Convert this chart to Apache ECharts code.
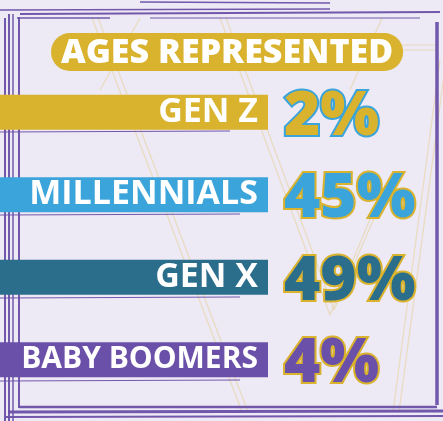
<!DOCTYPE html>
<html><head><meta charset="utf-8">
<script src="https://cdn.jsdelivr.net/npm/echarts@6/dist/echarts.min.js"></script>
<style>html,body{margin:0;padding:0;background:#EDE9F5;}#c{width:443px;height:421px;}</style>
</head><body><div id="c"></div>
<script>
const categories = ['GEN Z', 'MILLENNIALS', 'GEN X', 'BABY BOOMERS'];
const shares = [2, 45, 49, 4];
const bannerLength = [1, 1, 1, 1];
const titleText = 'AGES REPRESENTED';

const fills = ['#D9B22E', '#3BA4DA', '#2A6E8C', '#6A50A8'];
const outlines = ['#3BA4DA', '#D9B22E', '#D9B22E', '#D9B22E'];
const nameSizes = [34, 34, 34, 30];
const gold = '#D9B22E', purple = '#6A50A8';

const chart = echarts.init(document.getElementById('c'), null, {renderer: 'canvas'});

function line(x1, y1, x2, y2, color, w, op) {
  return {type: 'line', silent: true, z: -1, shape: {x1, y1, x2, y2},
    style: {stroke: color, lineWidth: w, opacity: op == null ? 1 : op}};
}
const deco = [];
const faint = '#E6D29A';
[[92,18,242,412],[98,18,248,412],[220,18,330,315],[226,18,334,310],[330,315,378,200],[334,310,382,200],
 [440,60,393,412],[446,60,399,412],[140,18,100,90],[382,18,350,90],[395,45,436,45],[395,50,436,50]].forEach(p => deco.push(line(p[0],p[1],p[2],p[3],faint,1.2,0.6)));
// frame
[[5,18,5,421,2],[9,14,9,421,2],[13,14,13,421,1.5],[19,17,19,408,2],
 [0,10,330,9,1.5],[20,14,440,12,2],[17,18,110,18,1.5],[150,18,420,18,1.2],
 [140,2,330,3,1.5],
 [437,22,437,405,3.5],[19,407,437,407,2.5],[8,412,443,411,3],[6,417,443,416,2],
 [0,132,230,131,1],[0,215,240,214,1],[0,298,240,297,1],[0,381,240,380,1]
].forEach(p => deco.push(line(p[0],p[1],p[2],p[3],purple,p[4],0.95)));

chart.setOption({
  backgroundColor: '#EDE9F5',
  animation: false,
  title: {
    text: titleText, left: 52, top: 33,
    backgroundColor: gold, borderRadius: 19, padding: [2, 9, 0, 9],
    textStyle: {color: '#fff', fontSize: 34, fontWeight: 800, fontFamily: 'Open Sans',
      textBorderColor: gold, textBorderWidth: 2, lineHeight: 36}
  },
  graphic: deco,
  grid: {left: 0, right: 175, top: 71, bottom: 20, containLabel: false},
  xAxis: {type: 'value', min: 0, max: 1, show: false},
  yAxis: {type: 'category', data: categories, inverse: true, show: false},
  series: [
    {
      type: 'bar', barWidth: 35, z: 2,
      data: bannerLength.map((v, i) => ({value: v, itemStyle: {color: fills[i]},
        label: {fontSize: nameSizes[i]}})),
      label: {show: true, position: 'insideRight', distance: 10, formatter: p => p.name,
        color: '#fff', fontWeight: 700, fontFamily: 'Open Sans'}
    },
    {
      type: 'bar', barWidth: 35, barGap: '-100%', z: 3,
      data: bannerLength.map((v, i) => ({value: v, itemStyle: {color: 'transparent'},
        label: {color: fills[i], textBorderColor: outlines[i]}})),
      label: {show: true, position: 'right', distance: 16, offset: [0, 5],
        formatter: p => shares[p.dataIndex] + '%',
        fontSize: 62, fontWeight: 800, fontFamily: 'Open Sans', textBorderWidth: 4}
    }
  ]
});
</script></body></html>
